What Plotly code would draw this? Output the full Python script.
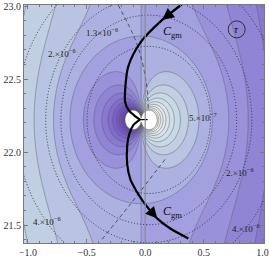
import numpy as np
import plotly.graph_objects as go

# ---------------- data ----------------
X_RANGE = [-1.034, 1.013]
Y_RANGE = [21.377, 23.007]
X_TICKS = [-1.0, -0.5, 0.0, 0.5, 1.0]
Y_TICKS = [21.5, 22.0, 22.5, 23.0]

# shaded field (dipole + uniform gradient)
DIPOLE_CENTER = [-0.035, 22.22]
FIELD_SCALE = [1.648, 1.742]
SOLID_LEVELS = [-4.2, 4.2, 0.42]      # start, end, step
CLIP_VALUE = 4.2

# dotted contour field (units of 1e-6)
DOTTED_CENTER = [0.03, 22.22]
DOTTED_SCALE = [0.88, 0.919]
DOTTED_POWER = 1.35
DOTTED_REF = 4.0
DOTTED_LEVELS = [0.5, 1.3, 2.0, 4.0]

# curve C_gm (upper and lower branch)
CGM_UP_X = [0.31, 0.145, -0.043, -0.145, -0.171, -0.171, -0.140, -0.090, -0.045]
CGM_UP_Y = [23.01, 22.905, 22.748, 22.585, 22.429, 22.340, 22.285, 22.248, 22.222]
CGM_LO_X = [-0.045, -0.100, -0.137, -0.154, -0.154, -0.128, -0.077, -0.017, 0.043, 0.103, 0.214, 0.368]
CGM_LO_Y = [22.222, 22.186, 22.122, 22.041, 21.918, 21.816, 21.735, 21.660, 21.599, 21.544, 21.476, 21.408]
JUNCTION_X = [-0.045, 0.02]
JUNCTION_Y = [22.222, 22.222]

# dashed curves
DASH1_X = [-0.368, -0.128, 0.103, 0.17]
DASH1_Y = [21.403, 21.642, 21.881, 21.95]
DASH2_X = [-0.231, -0.068, 0.009, 0.026]
DASH2_Y = [23.007, 22.734, 22.474, 22.29]

REFERENCE_X = [0.0]

# contour labels
LABEL_TEXT = ["1.3×10<sup>−6</sup>", "2.×10<sup>−6</sup>", "5.×10<sup>−7</sup>",
              "2.×10<sup>−6</sup>", "4.×10<sup>−6</sup>", "4.×10<sup>−6</sup>"]
LABEL_X = [-0.37, -0.71, 0.49, 0.81, 0.86, -0.84]
LABEL_Y = [22.82, 22.68, 22.24, 21.86, 21.48, 21.53]

CGM_LABEL_X = [0.23, 0.23]
CGM_LABEL_Y = [22.82, 21.59]
TAU_POS = [0.78, 22.84]

# ---------------- fields ----------------
xs = np.linspace(X_RANGE[0], X_RANGE[1], 481)
ys = np.linspace(Y_RANGE[0], Y_RANGE[1], 481)
XX, YY = np.meshgrid(xs, ys)

U = (XX - DIPOLE_CENTER[0]) * FIELD_SCALE[0]
V = (YY - DIPOLE_CENTER[1]) * FIELD_SCALE[1]
R2 = U**2 + V**2 + 1e-9
F = U * (1.0 / R2 - 1.0)
ABS_F = np.minimum(np.abs(F), 3 * CLIP_VALUE)

DX = (XX - DOTTED_CENTER[0]) * DOTTED_SCALE[0]
DY = (YY - DOTTED_CENTER[1]) * DOTTED_SCALE[1]
G = DOTTED_REF * (DX**2 + DY**2) ** DOTTED_POWER

colorscale = [
    [0.0, "rgb(96,54,166)"],
    [0.217, "rgb(118,92,194)"],
    [0.364, "rgb(141,127,212)"],
    [0.5, "rgb(166,167,224)"],
    [0.57, "rgb(184,196,226)"],
    [0.64, "rgb(197,212,228)"],
    [0.75, "rgb(214,227,232)"],
    [0.863, "rgb(236,238,230)"],
    [1.0, "rgb(250,246,226)"],
]

fig = go.Figure()

half = SOLID_LEVELS[2] / 2
fig.add_trace(go.Contour(
    x=xs, y=ys, z=F,
    zauto=False, zmin=SOLID_LEVELS[0] - half, zmax=SOLID_LEVELS[1] + half,
    colorscale=colorscale, showscale=False,
    contours=dict(start=SOLID_LEVELS[0], end=SOLID_LEVELS[1], size=SOLID_LEVELS[2],
                  coloring="fill"),
    line=dict(color="rgba(95,95,110,0.85)", width=0.6),
    hoverinfo="skip",
))

# region beyond the plotted range is left unshaded (white)
fig.add_trace(go.Contour(
    x=xs, y=ys, z=ABS_F, showscale=False,
    colorscale=[[0, "rgba(255,255,255,0)"], [1, "rgb(255,255,255)"]],
    contours=dict(start=CLIP_VALUE, end=CLIP_VALUE, size=1, coloring="fill"),
    line=dict(color="rgba(95,95,110,0.85)", width=0.6),
    hoverinfo="skip",
))

for lv in DOTTED_LEVELS:
    fig.add_trace(go.Contour(
        x=xs, y=ys, z=G, showscale=False,
        contours=dict(start=lv, end=lv, size=1, coloring="none"),
        line=dict(color="rgba(40,40,50,0.9)", width=1.0, dash="1px,2px"),
        hoverinfo="skip",
    ))

for dxv, dyv in [(DASH1_X, DASH1_Y), (DASH2_X, DASH2_Y)]:
    fig.add_trace(go.Scatter(
        x=dxv, y=dyv, mode="lines",
        line=dict(color="rgba(40,40,50,0.9)", width=0.8, dash="4px,3px", shape="spline"),
        hoverinfo="skip", showlegend=False,
    ))

for rx in REFERENCE_X:
    fig.add_vline(x=rx, line=dict(color="rgba(140,140,155,0.9)", width=1.4))

for cx, cy in [(CGM_UP_X, CGM_UP_Y), (CGM_LO_X, CGM_LO_Y)]:
    fig.add_trace(go.Scatter(
        x=cx, y=cy, mode="lines",
        line=dict(color="black", width=2.2, shape="spline", smoothing=0.8),
        hoverinfo="skip", showlegend=False,
    ))
fig.add_trace(go.Scatter(x=JUNCTION_X, y=JUNCTION_Y, mode="lines",
                         line=dict(color="black", width=1.2),
                         hoverinfo="skip", showlegend=False))

# arrowheads along the curve
for (tx, ty, sx, sy) in [(CGM_UP_X[1], CGM_UP_Y[1], CGM_UP_X[0], CGM_UP_Y[0]),
                         (CGM_LO_X[9], CGM_LO_Y[9], CGM_LO_X[8], CGM_LO_Y[8])]:
    fig.add_annotation(x=tx, y=ty, ax=sx, ay=sy, axref="x", ayref="y",
                       xref="x", yref="y", showarrow=True, text="",
                       arrowhead=2, arrowsize=1.3, arrowwidth=1.8, arrowcolor="black")

serif = "Liberation Serif, Times New Roman, serif"
for t, lx, ly in zip(LABEL_TEXT, LABEL_X, LABEL_Y):
    fig.add_annotation(x=lx, y=ly, text=t, showarrow=False,
                       font=dict(family=serif, size=9, color="#222"))

for lx, ly in zip(CGM_LABEL_X, CGM_LABEL_Y):
    fig.add_annotation(x=lx, y=ly, text="<i>C</i><sub>gm</sub>", showarrow=False,
                       font=dict(family=serif, size=12, color="#111"))

fig.add_shape(type="circle", xref="x", yref="y", xsizemode="pixel", ysizemode="pixel",
              xanchor=TAU_POS[0], yanchor=TAU_POS[1], x0=-8.5, x1=8.5, y0=-8.5, y1=8.5,
              line=dict(color="#222", width=0.9))
fig.add_annotation(x=TAU_POS[0], y=TAU_POS[1], text="<i>τ</i>", showarrow=False,
                   font=dict(family=serif, size=11, color="#111"))

axis_common = dict(
    automargin=False,
    showgrid=False, zeroline=False, showline=True, linecolor="#7a7a7a", linewidth=1,
    mirror="ticks", ticks="inside", ticklen=4, tickwidth=1, tickcolor="#7a7a7a",
    tickfont=dict(family=serif, size=10, color="#333"), tickformat=".1f",
    minor=dict(ticks="inside", ticklen=2, dtick=0.1, tickcolor="#7a7a7a", tickwidth=0.8),
)
fig.update_xaxes(range=X_RANGE, tickvals=X_TICKS, **axis_common)
fig.update_yaxes(range=Y_RANGE, tickvals=Y_TICKS, **axis_common)

fig.update_layout(
    width=269, height=258,
    margin=dict(l=24, r=5, t=5, b=15, autoexpand=False),
    paper_bgcolor="white", plot_bgcolor="white",
    showlegend=False,
)

fig.write_html("out.html", config={"displayModeBar": False},
               post_script="document.body.style.margin='0px';document.body.style.padding='0px';")
